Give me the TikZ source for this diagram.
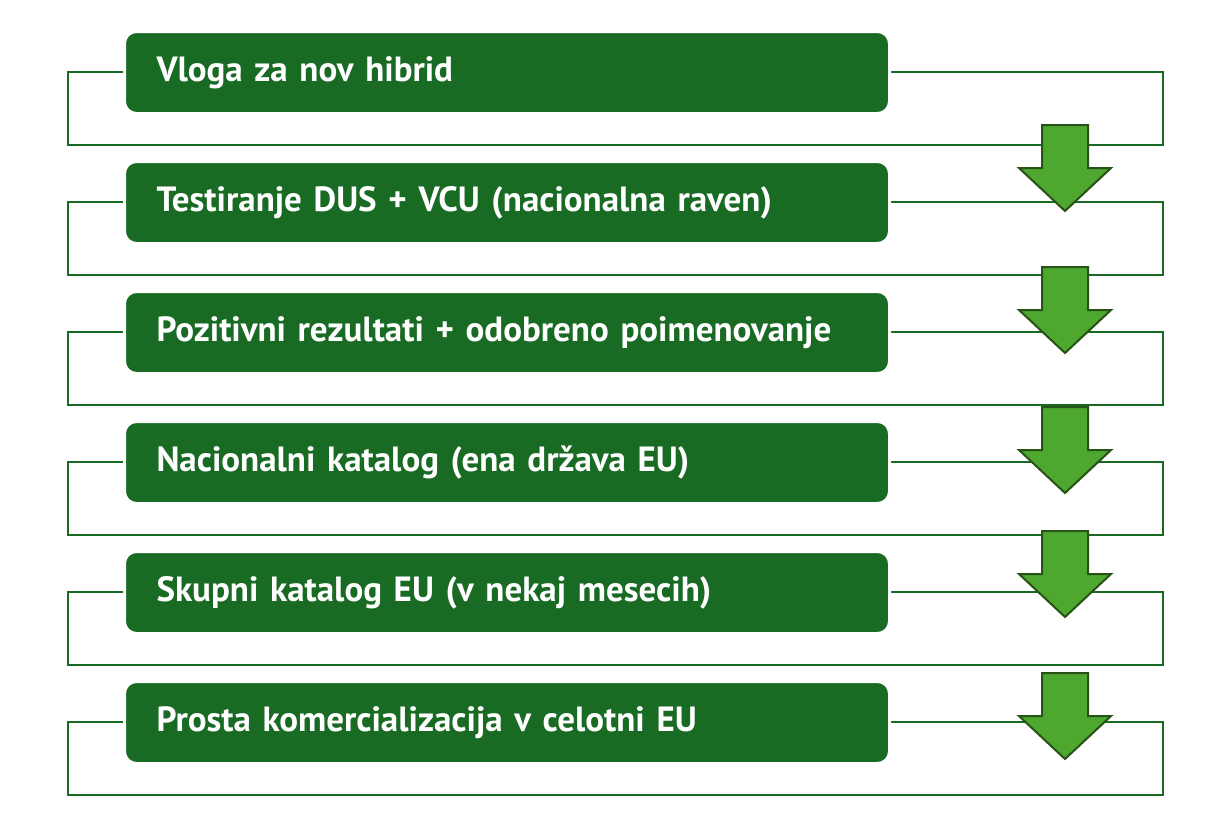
\documentclass[tikz,border=0pt]{standalone}
\usepackage{fontspec}
\setmainfont{PT Sans}
\usetikzlibrary{positioning}

\definecolor{boxgreen}{HTML}{196B24}
\definecolor{arrowgreen}{HTML}{4EA72E}
\definecolor{arrowline}{HTML}{275317}

\begin{document}
\begin{tikzpicture}[x=1pt, y=-1pt,
    stepbox/.style = {anchor=north west, fill=boxgreen, draw=white, line width=3pt,
        outer sep=0pt, rounded corners=12pt, minimum width=765pt, minimum height=82pt,
        text width=701pt, align=left, inner xsep=32pt,
        text height=26pt, text depth=7.6pt, text=white,
        font=\fontsize{35}{40}\selectfont\bfseries},
    frame/.style = {draw=boxgreen, line width=2.2pt},
    downarrow/.style = {fill=arrowgreen, draw=arrowline, line width=2pt, line join=miter}]
    \useasboundingbox (0,0) rectangle (1216,839);

    % frames behind the steps
    \draw[frame] (68,72) rectangle (1163,145);
    \draw[frame] (68,202) rectangle (1163,275);
    \draw[frame] (68,332) rectangle (1163,405);
    \draw[frame] (68,462) rectangle (1163,535);
    \draw[frame] (68,592) rectangle (1163,665);
    \draw[frame] (68,722) rectangle (1163,795);

    \node[stepbox] (S1) at (124.5, 31.5) {Vloga za nov hibrid};
    \node[stepbox] (S2) at (124.5, 161.5) {Testiranje DUS + VCU (nacionalna raven)};
    \node[stepbox] (S3) at (124.5, 291.5) {Pozitivni rezultati + odobreno poimenovanje};
    \node[stepbox] (S4) at (124.5, 421.5) {Nacionalni katalog (ena država EU)};
    \node[stepbox] (S5) at (124.5, 551.5) {Skupni katalog EU (v nekaj mesecih)};
    \node[stepbox] (S6) at (124.5, 681.5) {Prosta komercializacija v celotni EU};

    % arrows between the steps
    \coordinate (A1) at (1065,125);
    \coordinate (A2) at (1065,267);
    \coordinate (A3) at (1065,407);
    \coordinate (A4) at (1065,531);
    \coordinate (A5) at (1065,673);
    \draw[downarrow] (A1) ++(-23,0) -- ++(46,0) -- ++(0,43) -- ++(23,0) -- ++(-46,43) -- ++(-46,-43) -- ++(23,0) -- cycle;
    \draw[downarrow] (A2) ++(-23,0) -- ++(46,0) -- ++(0,43) -- ++(23,0) -- ++(-46,43) -- ++(-46,-43) -- ++(23,0) -- cycle;
    \draw[downarrow] (A3) ++(-23,0) -- ++(46,0) -- ++(0,43) -- ++(23,0) -- ++(-46,43) -- ++(-46,-43) -- ++(23,0) -- cycle;
    \draw[downarrow] (A4) ++(-23,0) -- ++(46,0) -- ++(0,43) -- ++(23,0) -- ++(-46,43) -- ++(-46,-43) -- ++(23,0) -- cycle;
    \draw[downarrow] (A5) ++(-23,0) -- ++(46,0) -- ++(0,43) -- ++(23,0) -- ++(-46,43) -- ++(-46,-43) -- ++(23,0) -- cycle;
\end{tikzpicture}
\end{document}
